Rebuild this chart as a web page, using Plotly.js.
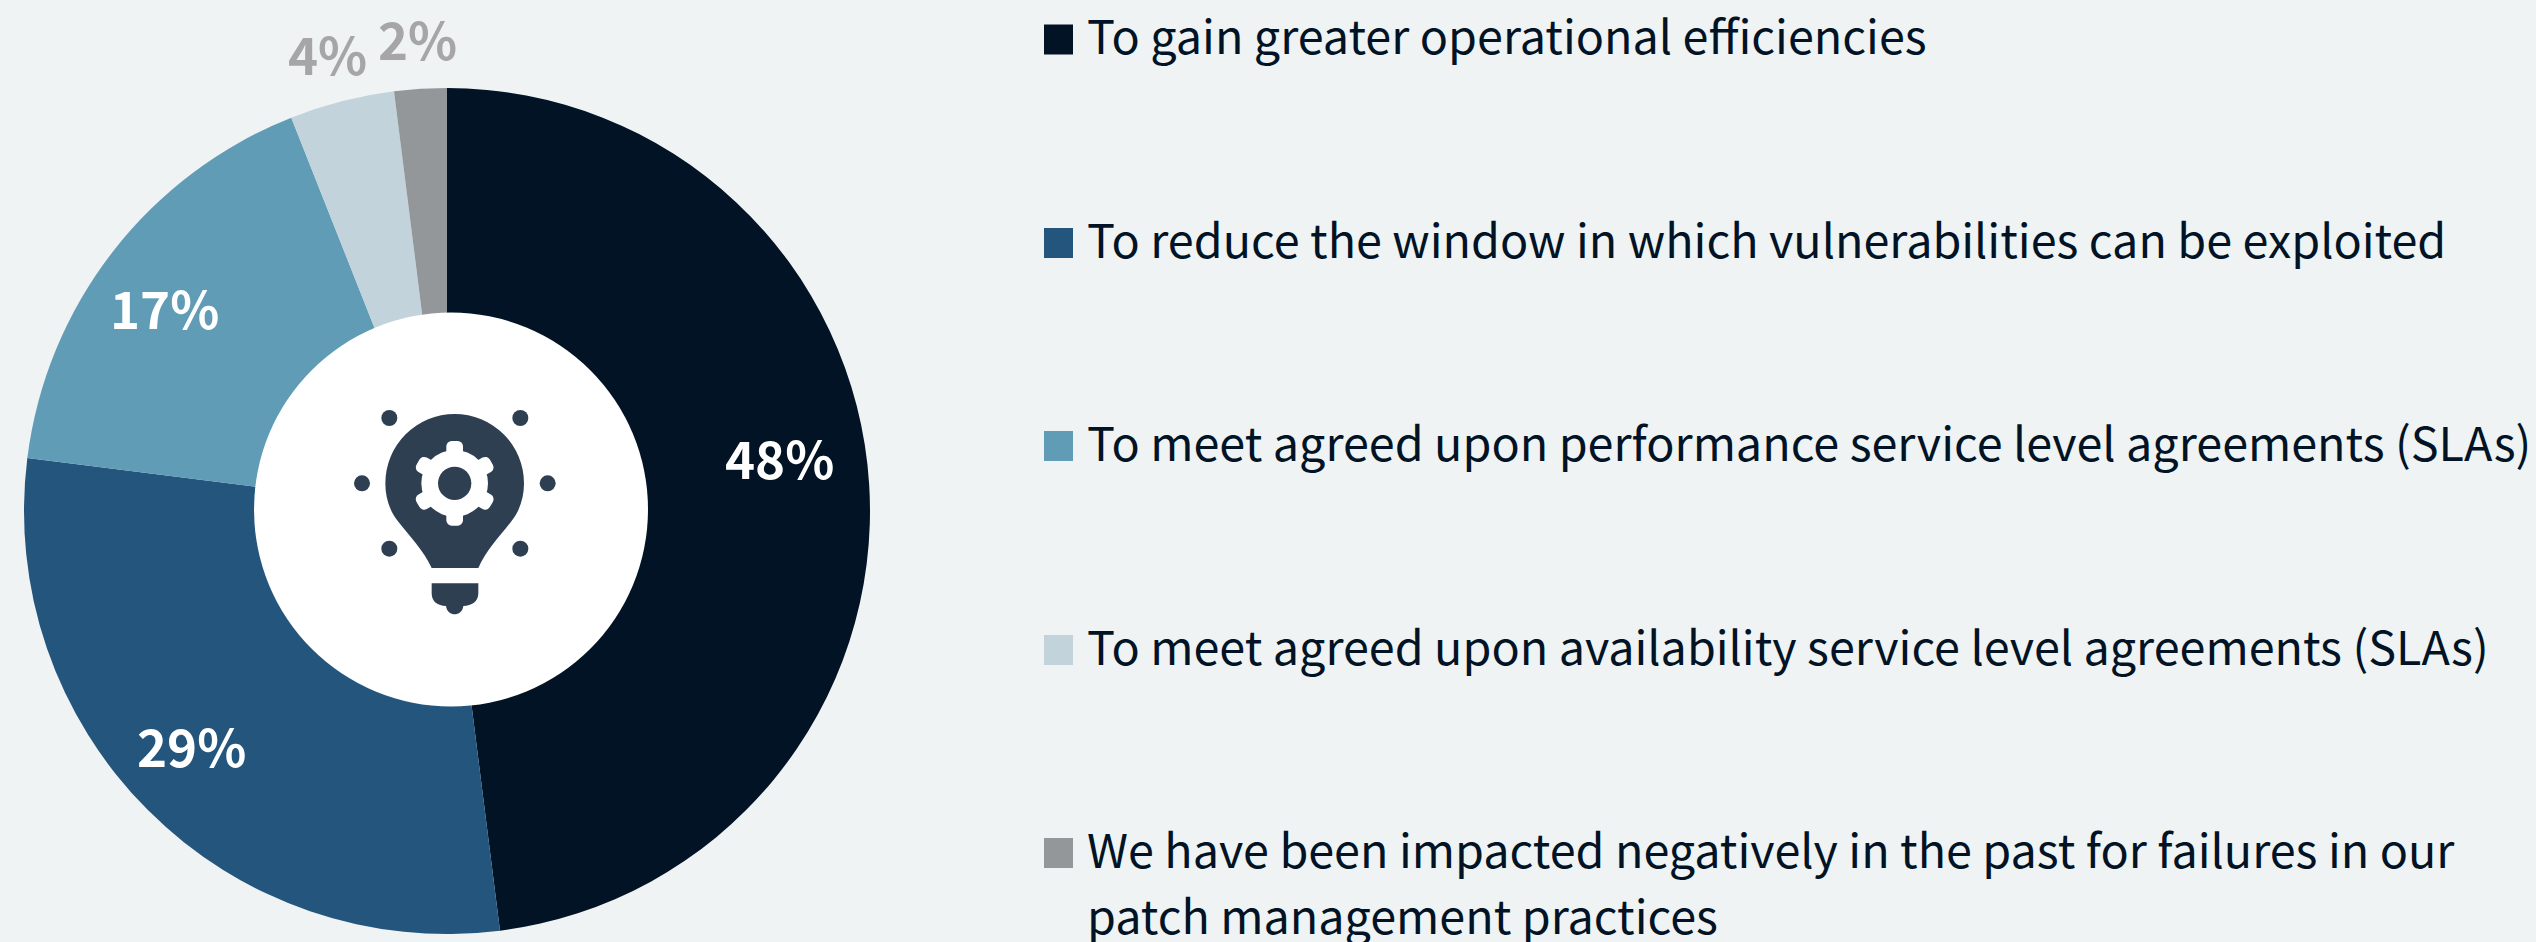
<!DOCTYPE html>
<html>
<head>
<meta charset="utf-8">
<script src="https://cdn.plot.ly/plotly-3.0.1.min.js"></script>
<style>
  html, body { margin: 0; padding: 0; background: #eff3f4; }
  #graph { width: 2536px; height: 942px; }
</style>
</head>
<body>
<div id="graph"></div>
<script>
const categories = [
  "To gain greater operational efficiencies",
  "To reduce the window in which vulnerabilities can be exploited",
  "To meet agreed upon performance service level agreements (SLAs)",
  "To meet agreed upon availability service level agreements (SLAs)",
  "We have been impacted negatively in the past for failures in our<br>patch management practices"
];
const valores = [48, 29, 17, 4, 2];
const colores = ["#021325", "#24557d", "#619cb6", "#c2d3dc", "#939799"];
const coloresTexto = ["#ffffff", "#ffffff", "#ffffff", "#a6a6a6", "#a6a6a6"];

// posicion en pixeles de las etiquetas de porcentaje y de la leyenda
const etiquetaX = [780, 191, 164, 327, 417];
const etiquetaY = [457, 745, 307, 53, 38];
const leyendaY = [39.5, 243, 446, 650, 853];

const W = 2536, H = 942;
const fuente = '"Noto Sans CJK SC", "Noto Sans", sans-serif';
const px = x => x / W;
const py = y => 1 - y / H;

// circulo blanco e icono de la ampolleta, la caja va de -150 a 1050 en x y de -60 a 1140 en y
const puntos = [[268,264],[661,264],[186,460],[743,460],[268,656],[661,656]];
const dientes = [0,60,120,180,240,300];
const icono = `<svg xmlns="http://www.w3.org/2000/svg" viewBox="-150 -60 1200 1200" width="1200" height="1200">
<circle cx="453" cy="538.5" r="591" fill="#ffffff"/><g fill="#2e3f52">
${puntos.map(p => `<circle cx="${p[0]}" cy="${p[1]}" r="24"/>`).join("")}
<path d="M395 714C370 660 330 620 295 575C270 545 256 505 256 460A208 208 0 0 1 672 460C672 505 658 545 633 575C598 620 558 660 535 714Z"/>
<path d="M395 760H535V790C535 815 515 828 490 828C488 845 475 853 464 853C453 853 440 845 438 828C413 828 395 815 395 790Z"/></g>
<g transform="translate(464 460)" fill="#ffffff"><circle r="100"/>
${dientes.map(a => `<rect x="-25" y="-127" width="50" height="50" rx="16" transform="rotate(${a})"/>`).join("")}
<circle r="50" fill="#2e3f52"/></g></svg>`;

let data = [{
  type: "pie",
  labels: categories,
  values: valores,
  marker: { colors: colores, line: { width: 0 } },
  sort: false,
  direction: "clockwise",
  rotation: 0,
  hole: 0.4,
  textinfo: "none",
  hoverinfo: "label+percent",
  domain: { x: [px(24), px(870)], y: [py(934), py(88)] }
}];

let anotaciones = [];
let formas = [];

valores.forEach((v, i) => {
  anotaciones.push({
    text: v + "%", showarrow: false, xref: "paper", yref: "paper",
    x: px(etiquetaX[i]), y: py(etiquetaY[i]), xanchor: "center", yanchor: "middle",
    font: { family: fuente, size: 51, color: coloresTexto[i], weight: 700 }
  });
  // cada linea de la leyenda va aparte para controlar el interlineado
  categories[i].split("<br>").forEach((linea, j) => {
    anotaciones.push({
      text: linea, showarrow: false, align: "left", xref: "paper", yref: "paper",
      x: px(1085), y: py(leyendaY[i] - 41.5 + j * 66), xanchor: "left", yanchor: "top",
      font: { family: fuente, size: 46.7, color: "#021325" }
    });
  });
  formas.push({
    type: "rect", xref: "paper", yref: "paper",
    x0: px(1044), x1: px(1073), y0: py(leyendaY[i] - 15), y1: py(leyendaY[i] + 15),
    fillcolor: colores[i], line: { width: 0 }
  });
});

let layout = {
  width: W,
  height: H,
  margin: { l: 0, r: 0, t: 0, b: 0 },
  paper_bgcolor: "#eff3f4",
  showlegend: false,
  annotations: anotaciones,
  shapes: formas,
  images: [{
    source: "data:image/svg+xml;charset=utf-8," + encodeURIComponent(icono),
    xref: "paper", yref: "paper", layer: "above",
    x: px(250), y: py(310), sizex: 400 / W, sizey: 400 / H,
    xanchor: "left", yanchor: "top", sizing: "stretch"
  }]
};

Plotly.newPlot("graph", data, layout, { displayModeBar: false });
</script>
</body>
</html>
